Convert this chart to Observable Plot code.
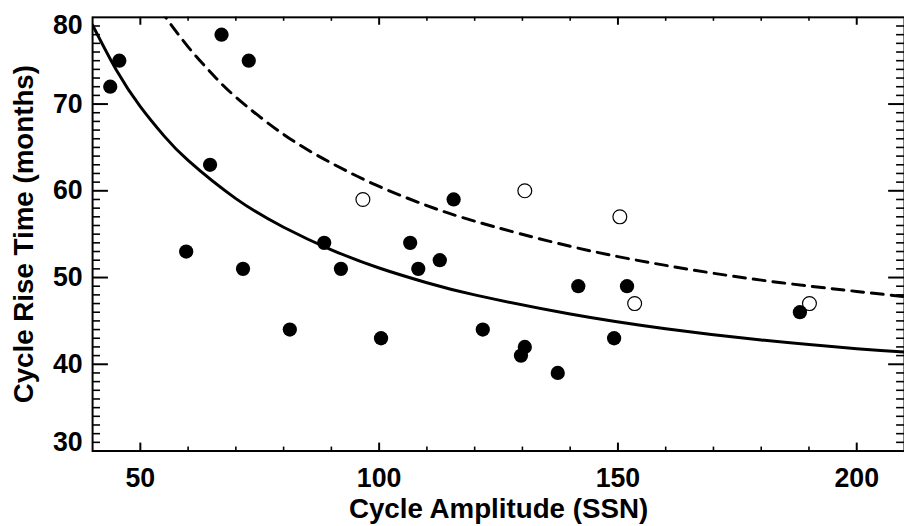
<!DOCTYPE html>
<html><head><meta charset="utf-8">
<script src="https://cdn.jsdelivr.net/npm/d3@7"></script>
<script src="https://cdn.jsdelivr.net/npm/@observablehq/plot@0.6"></script>
<style>
html,body{margin:0;padding:0;background:#fff;overflow:hidden;width:904px;height:526px;}
#chart svg{display:block;}
</style></head><body><div id="chart"></div>
<script>
// Filled circles: cycle amplitude (SSN) and rise time (months)
const filledAmp  = [43.7, 45.6, 67.0, 72.7, 64.6, 59.6, 71.5, 81.3, 88.5, 92.0, 100.4, 106.5, 108.2, 112.7, 115.6, 121.7, 130.5, 129.7, 137.4, 141.7, 151.9, 149.2, 188.1];
const filledRise = [72, 75, 78, 75, 63, 53, 51, 44, 54, 51, 43, 54, 51, 52, 59, 44, 42, 41, 39, 49, 49, 43, 46];
// Open circles
const openAmp  = [96.6, 130.5, 150.4, 153.5, 190.1];
const openRise = [59, 60, 57, 47, 47];
// Solid fit curve
const fitAmp  = [40, 45, 50, 55, 60, 70, 80, 90, 100, 110, 120, 140, 160, 180, 200, 210];
const fitRise = [79.1, 73.9, 69.7, 66.3, 63.5, 59.1, 55.8, 53.2, 51.1, 49.4, 48.0, 45.8, 44.1, 42.8, 41.8, 41.4];
// Dashed curve
const upperAmp  = [54, 55.3, 60, 65, 70, 80, 90, 100, 110, 120, 140, 160, 180, 200, 210];
const upperRise = [81, 80, 76.6, 73.5, 70.8, 66.5, 63.2, 60.5, 58.3, 56.5, 53.6, 51.4, 49.7, 48.4, 47.8];
// Ticks and labels
const xTickLabels = [50, 100, 150, 200];
const yTickLabels = [30, 40, 50, 60, 70, 80];
const xTitle = "Cycle Amplitude (SSN)";
const yTitle = "Cycle Rise Time (months)";

const filled = filledAmp.map((a, i) => ({amp: a, rise: filledRise[i]}));
const open = openAmp.map((a, i) => ({amp: a, rise: openRise[i]}));
const fit = fitAmp.map((a, i) => ({amp: a, rise: fitRise[i]}));
const upper = upperAmp.map((a, i) => ({amp: a, rise: upperRise[i]}));

const xMinor = d3.range(50, 210, 10).filter(v => !xTickLabels.includes(v));
const yMinor = d3.range(31, 80, 1).filter(v => !yTickLabels.includes(v));
const yMajorInner = yTickLabels.filter(v => v > 30 && v < 80);

const W = 913, H = 526, mL = 93, mR = 0, mT = 17, mB = 71;
const pw = W - mL - mR, ph = H - mT - mB;

const chart = Plot.plot({
  width: W, height: H,
  marginLeft: mL, marginRight: mR, marginTop: mT, marginBottom: mB,
  style: {fontFamily: "'Liberation Sans', Arial, Helvetica, sans-serif", fontSize: "27px", fontWeight: "bold", background: "white", color: "black", overflow: "visible"},
  x: {domain: [40, 210], axis: null},
  y: {domain: [30, 80], axis: null},
  marks: [
    // ticks: left / right
    Plot.ruleY(yMajorInner, {y: d => d, insetRight: pw - 16, stroke: "black", strokeWidth: 2}),
    Plot.ruleY(yMinor, {y: d => d, insetRight: pw - 8, stroke: "black", strokeWidth: 1.6}),
    Plot.ruleY(yMajorInner, {y: d => d, insetLeft: pw - 16, stroke: "black", strokeWidth: 2}),
    Plot.ruleY(yMinor, {y: d => d, insetLeft: pw - 8, stroke: "black", strokeWidth: 1.6}),
    // ticks: bottom / top
    Plot.ruleX(xTickLabels, {x: d => d, insetTop: ph - 8, stroke: "black", strokeWidth: 2}),
    Plot.ruleX(xMinor, {x: d => d, insetTop: ph - 4, stroke: "black", strokeWidth: 1.6}),
    Plot.ruleX(xTickLabels, {x: d => d, insetBottom: ph - 8, stroke: "black", strokeWidth: 2}),
    Plot.ruleX(xMinor, {x: d => d, insetBottom: ph - 4, stroke: "black", strokeWidth: 1.6}),
    // curves
    Plot.line(fit, {x: "amp", y: "rise", curve: "natural", stroke: "black", strokeWidth: 3, clip: true}),
    Plot.line(upper, {x: "amp", y: "rise", curve: "natural", stroke: "black", strokeWidth: 3, strokeDasharray: "12,8", clip: true}),
    // points
    Plot.dot(open, {x: "amp", y: "rise", r: 7, fill: "white", stroke: "black", strokeWidth: 1.2}),
    Plot.dot(filled, {x: "amp", y: "rise", r: 7.2, fill: "black", stroke: "none"}),
    Plot.frame({stroke: "black", strokeWidth: 2}),
    // tick labels
    Plot.text(xTickLabels, {x: d => d, frameAnchor: "bottom", dy: 17, lineAnchor: "top", text: d => `${d}`, fill: "black", fontSize: 27}),
    Plot.text(yMajorInner, {y: d => d, frameAnchor: "left", dx: -10, textAnchor: "end", text: d => `${d}`, fill: "black", fontSize: 27}),
    Plot.text([80], {y: d => d, frameAnchor: "left", dx: -10, dy: 8, textAnchor: "end", text: d => `${d}`, fill: "black", fontSize: 27}),
    Plot.text([30], {y: d => d, frameAnchor: "left", dx: -10, dy: -9, textAnchor: "end", text: d => `${d}`, fill: "black", fontSize: 27}),
    // titles
    Plot.text([xTitle], {frameAnchor: "bottom", dy: 68, lineAnchor: "bottom", textAnchor: "middle", text: d => d, fill: "black", fontSize: 28}),
    Plot.text([yTitle], {frameAnchor: "left", dx: -60, rotate: -90, lineAnchor: "bottom", textAnchor: "middle", text: d => d, fill: "black", fontSize: 28})
  ]
});
document.getElementById("chart").appendChild(chart);
</script>
</body></html>
